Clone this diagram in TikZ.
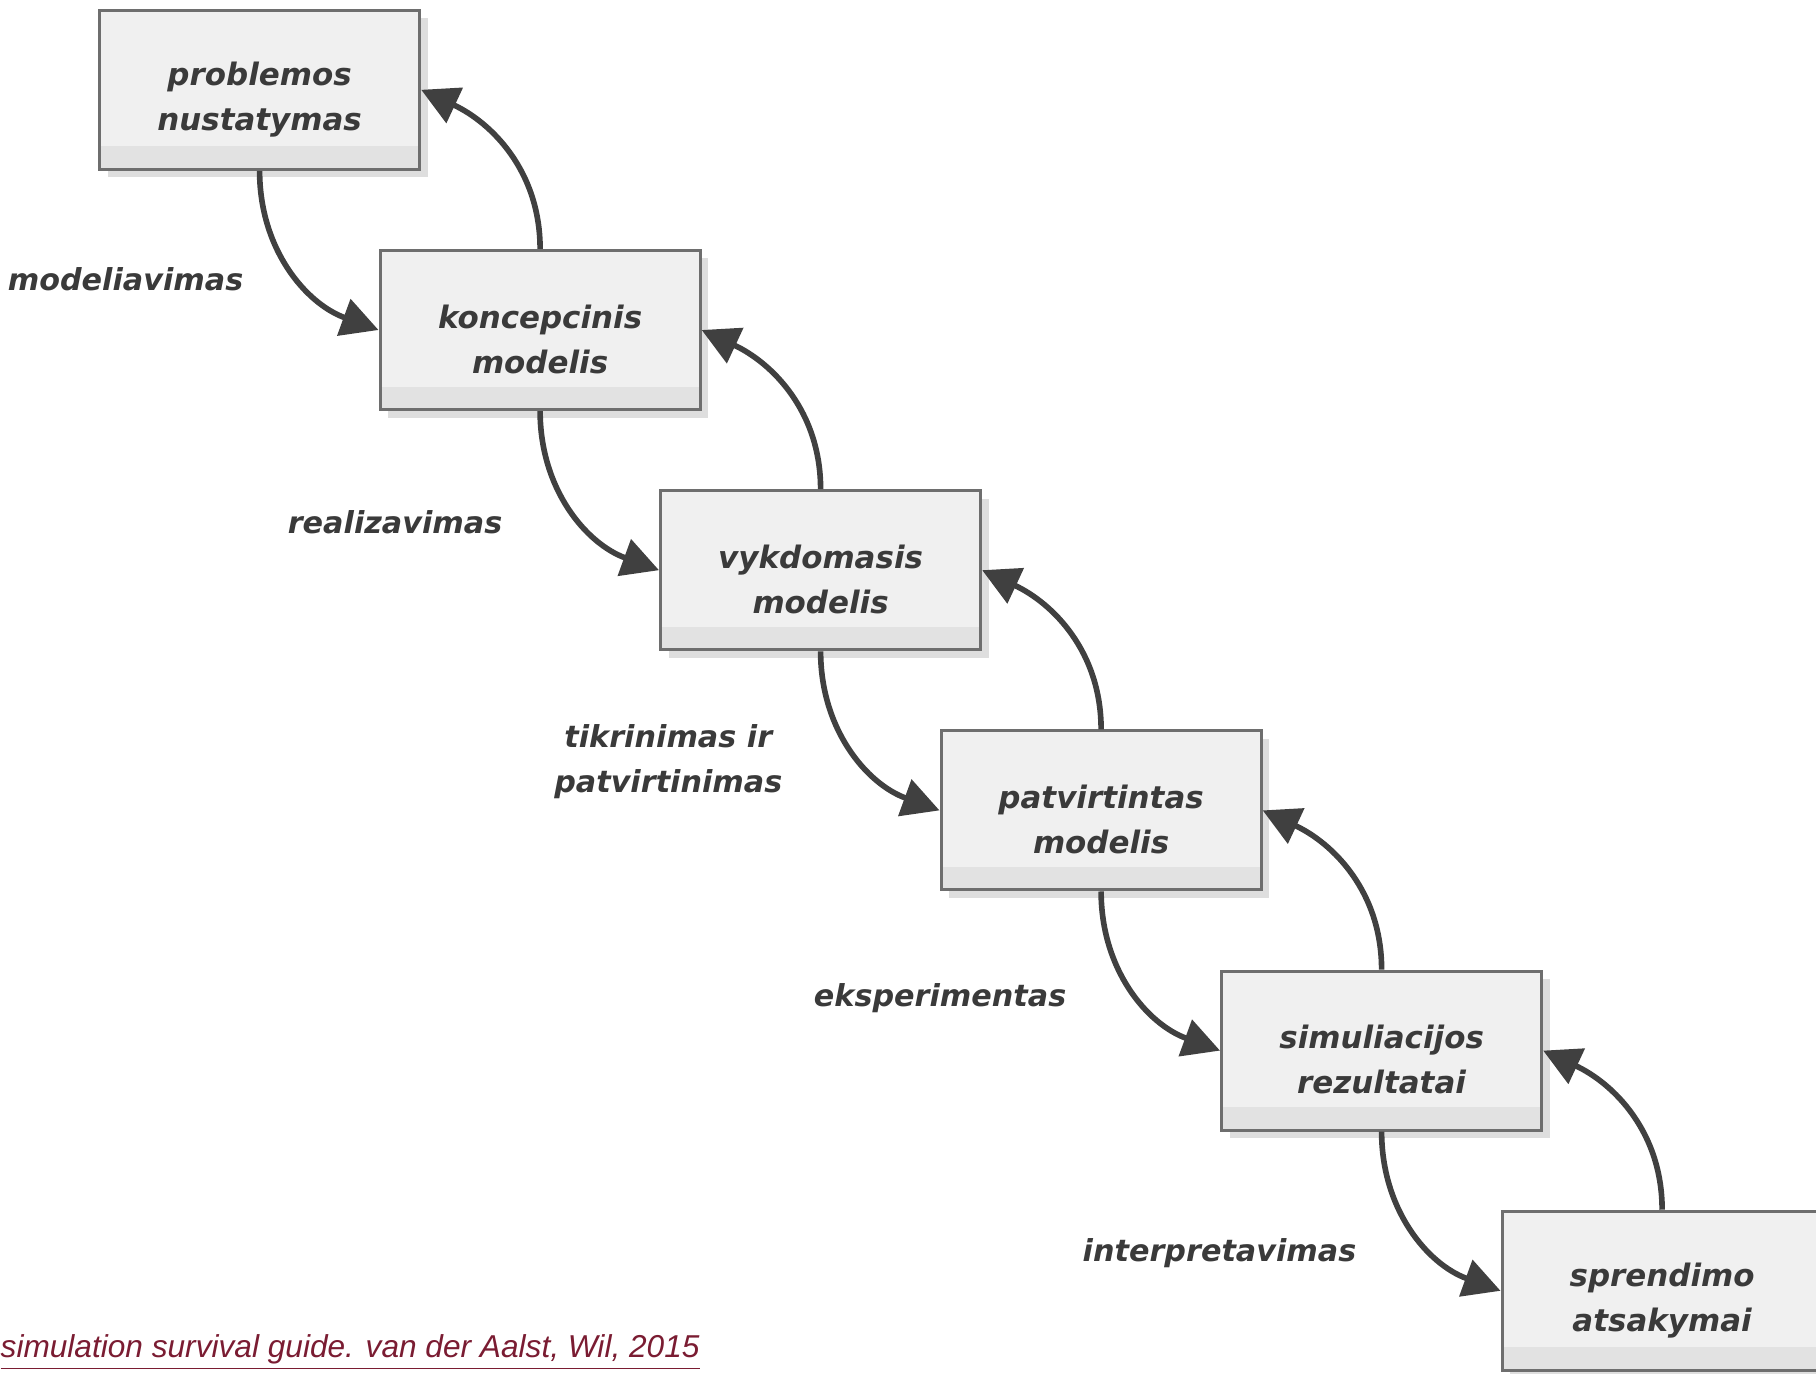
\documentclass[tikz,border=0pt]{standalone}
\usepackage{fontspec}
\usetikzlibrary{arrows.meta,shadows}
\newfontfamily\sketchfont{DejaVu Sans}
\newfontfamily\citefont{Liberation Sans}
\definecolor{boxfill}{HTML}{F0F0F0}
\definecolor{boxband}{HTML}{E2E2E2}
\definecolor{boxline}{HTML}{6E6E6E}
\definecolor{arrowgray}{HTML}{404040}
\definecolor{textgray}{HTML}{3A3A3A}
\definecolor{citered}{HTML}{7A1C32}
\begin{document}
\begin{tikzpicture}[
    box/.style={draw=boxline, line width=0.9pt, fill=boxfill,
      minimum width=3.2cm, minimum height=1.59cm, align=center,
      text=textgray, font=\sketchfont\bfseries\itshape\fontsize{8.8}{12.8}\selectfont,
      execute at begin node=\rule{0pt}{24.8pt},
      drop shadow={shadow xshift=0.08cm, shadow yshift=-0.08cm, fill=black!13, opacity=1},
      path picture={\fill[boxband] ([yshift=0.23cm]path picture bounding box.south west)
        rectangle (path picture bounding box.south east);}},
    lbl/.style={anchor=east, align=center, text=textgray, inner sep=0pt,
      font=\sketchfont\bfseries\itshape\fontsize{8.6}{12.8}\selectfont},
    flow/.style={line width=1.6pt, draw=arrowgray,
      -{Triangle[length=0.37cm,width=0.38cm]}}
  ]
  \useasboundingbox (0,0) rectangle (18.16,13.73);

  % boxes
  \node[box] (prob) at (2.596,12.832) {problemos\\nustatymas};
  \node[box] (konc) at (5.401,10.430) {koncepcinis\\modelis};
  \node[box] (vykd) at (8.206,8.028) {vykdomasis\\modelis};
  \node[box] (patv) at (11.011,5.626) {patvirtintas\\modelis};
  \node[box] (sim) at (13.816,3.224) {simuliacijos\\rezultatai};
  \node[box] (spr) at (16.621,0.822) {sprendimo\\atsakymai};

  % forward steps
  \draw[flow] (prob.south) to[out=-90,in=160] (konc.west);
  \draw[flow] (konc.south) to[out=-90,in=160] (vykd.west);
  \draw[flow] (vykd.south) to[out=-90,in=160] (patv.west);
  \draw[flow] (patv.south) to[out=-90,in=160] (sim.west);
  \draw[flow] (sim.south) to[out=-90,in=160] (spr.west);

  % feedback
  \draw[flow] (konc.north) to[out=90,in=-25] (prob.east);
  \draw[flow] (vykd.north) to[out=90,in=-25] (konc.east);
  \draw[flow] (patv.north) to[out=90,in=-25] (vykd.east);
  \draw[flow] (sim.north) to[out=90,in=-25] (patv.east);
  \draw[flow] (spr.north) to[out=90,in=-25] (sim.east);

  % labels
  \node[lbl] (l1) at (2.44,10.94) {modeliavimas};
  \node[lbl] (l2) at (5.03,8.506) {realizavimas};
  \node[lbl] (l3) at (7.83,6.11) {tikrinimas ir\\patvirtinimas};
  \node[lbl] (l4) at (10.67,3.75) {eksperimentas};
  \node[lbl] (l5) at (13.57,1.20) {interpretavimas};

  \node[anchor=base west, inner sep=0pt, text=citered,
    font=\citefont\itshape\fontsize{9}{10}\selectfont] (cite) at (0,0.16)
    {\underline{simulation survival guide. van der Aalst, Wil, 2015}};
\end{tikzpicture}
\end{document}
